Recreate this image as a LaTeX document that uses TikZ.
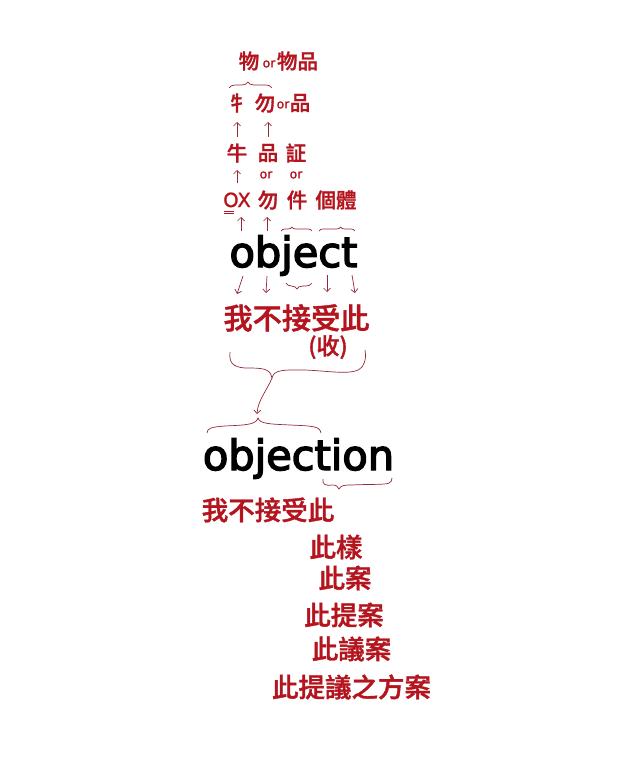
\documentclass[tikz,border=0pt]{standalone}
\usepackage{fontspec}
\setmainfont{DejaVu Sans}
\newfontfamily\cjk{Noto Sans CJK TC Medium}[FakeBold=1.4]
\newfontfamily\lat{DejaVu Sans}[FakeBold=1.2]
\newfontfamily\latb{DejaVu Sans}[FakeBold=3.5]
\usetikzlibrary{arrows.meta,decorations.pathreplacing}
\definecolor{txtred}{RGB}{180,20,30}
\definecolor{lnred}{RGB}{150,40,55}
\begin{document}
\begin{tikzpicture}[x=1pt,y=-1pt,
  zh/.style={font=\cjk\fontsize{#1pt}{#1pt}\selectfont, text=txtred, inner sep=0pt},
  orr/.style={font=\lat\fontsize{12.5pt}{12.5pt}\selectfont, text=txtred, inner sep=0pt},
  en/.style={font=\latb\fontsize{41.5pt}{41.5pt}\selectfont, text=black, inner sep=0pt, anchor=base},
  arr/.style={draw=lnred, line width=0.7pt, -{Straight Barb[length=3.5pt,width=7pt]}},
  brc/.style={draw=lnred, line width=0.7pt},
  obrace/.style={brc, decorate, decoration={brace, amplitude=#1}},
]
\useasboundingbox (0,0) rectangle (619,760);
% row 1
\node[zh=20.5] (wu1) at (249,61) {物};
\node[orr] (or1) at (269,64) {or};
\node[zh=20.5] (wupin) at (297.5,61) {物品};
% row 2
\node[zh=20.5] (niuR) at (237,103) {牜};
\node[zh=20.5] (wu2) at (265,103) {勿};
\node[orr] (or2) at (283,105) {or};
\node[zh=20.5] (pin2) at (300,103) {品};
% row 3
\node[zh=20.5] (niu) at (237,153) {牛};
\node[zh=20.5] (pin3) at (268,153) {品};
\node[zh=20.5] (zheng) at (296,153) {証};
\node[orr] (or3a) at (266,175) {or};
\node[orr] (or3b) at (296,175) {or};
% row 4
\node[font=\lat\fontsize{19.5pt}{19.5pt}\selectfont, text=txtred, inner sep=0pt, anchor=base] (ox) at (237,207) {OX};
\node[zh=20.5] (wu4) at (268,200) {勿};
\node[zh=20.5] (jian) at (297,200) {件};
\node[zh=20.5] (geti) at (336,200) {個體};
% object
\node[en] (obj) at (293.5,267) {object};
\node[zh=29.2] (wo1) at (296.5,318) {我不接受此};
\node[zh=23] (shou) at (328,347) {(收)};
% objection
\node[en] (objn) at (298.5,470) {objection};
\node[zh=26.5] (wo2) at (268,510) {我不接受此};
\node[zh=26.5] (ciyang) at (336,547) {此樣};
\node[zh=26.5] (cian) at (345,578) {此案};
\node[zh=26.5] (citian) at (344,615) {此提案};
\node[zh=26.5] (ciyian) at (351.5,649) {此議案};
\node[zh=26.5] (fangan) at (351.5,687) {此提議之方案};

% double underline under O
\draw[draw=txtred, line width=0.6pt] (224,211.5) -- (234,211.5) (224,213.5) -- (234,213.5);

% coordinates for arrows
\coordinate (a1s) at (237,137); \coordinate (a1e) at (237,122);
\coordinate (a2s) at (268,137); \coordinate (a2e) at (268,122);
\coordinate (a3s) at (237,183); \coordinate (a3e) at (237,170);
\coordinate (a4s) at (241,231); \coordinate (a4e) at (241,217);
\coordinate (a5s) at (267,231); \coordinate (a5e) at (267,217);
\coordinate (d1s) at (243,276); \coordinate (d1e) at (237,294);
\coordinate (d2s) at (267,276); \coordinate (d2e) at (266,293);
\coordinate (d4s) at (327,275); \coordinate (d4e) at (327,292);
\coordinate (d5s) at (352,275); \coordinate (d5e) at (355,293);
\foreach \p in {a1,a2,a3,a4,a5,d1,d2,d4,d5} \draw[arr] (\p s) -- (\p e);

% small braces
\draw[obrace=6pt, decoration={aspect=0.44}] (229,88) -- (272,88);
\draw[obrace=4pt, decoration={aspect=0.35}] (281,231) -- (312,231);
\draw[obrace=4pt, decoration={aspect=0.6}] (319,231) -- (355,231);
\draw[obrace=6pt, decoration={aspect=0.58}] (312,283) -- (286,283);

% big brace under 我不接受此(收)
\coordinate (btip) at (272,378);
\draw[brc] (230,352) .. controls (229,362) and (232,367) .. (245,368)
  .. controls (262,368) and (270,368) .. (btip)
  .. controls (274,369) and (285,370) .. (305,370)
  .. controls (330,371) and (355,376) .. (362,367)
  .. controls (366,361) and (366,356) .. (365,350);
\coordinate (atip) at (257,414);
\draw[arr] (btip) .. controls (266,392) and (258,400) .. (atip);

% overbrace above objection
\draw[brc] (207,433) .. controls (207,428) and (212,427) .. (225,426)
  .. controls (245,425) and (256,425) .. (258,418)
  .. controls (260,424) and (270,424) .. (290,425)
  .. controls (312,426) and (320,426) .. (321,433);

% underbrace under "ion"
\draw[brc] (323,479) .. controls (322,484) and (325,486) .. (332,485)
  .. controls (336,485) and (338,486) .. (339,489)
  .. controls (341,485) and (345,485) .. (352,485)
  .. controls (370,484) and (385,485) .. (389,483)
  .. controls (391,482) and (392,481) .. (392,478);
\end{tikzpicture}
\end{document}
